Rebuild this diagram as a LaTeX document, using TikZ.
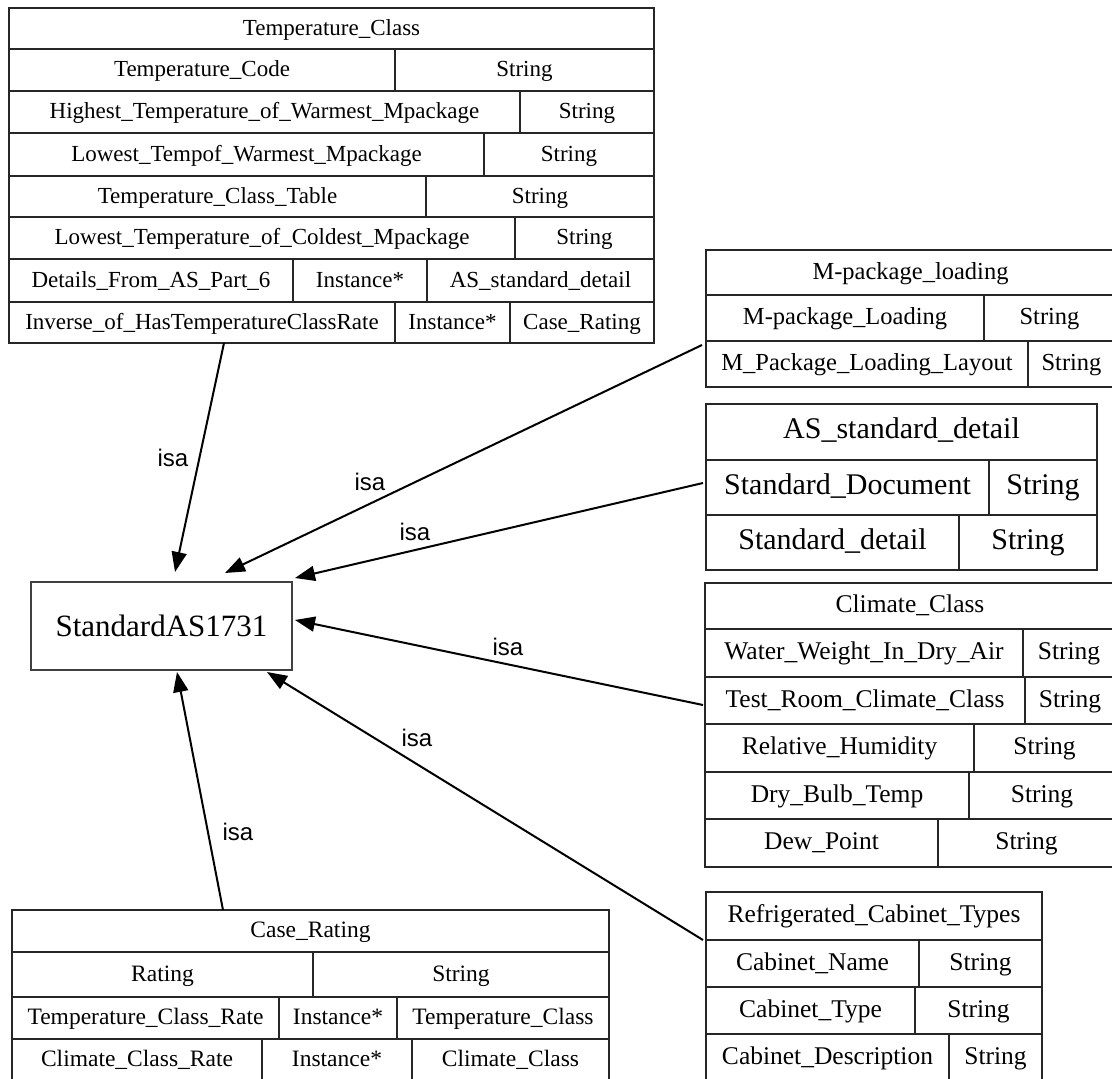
\documentclass[tikz,border=0pt]{standalone}
\usepackage{fontspec}
\setmainfont{Liberation Serif}
\newfontfamily\isafont{Liberation Sans}
\usetikzlibrary{arrows.meta}

% one table cell: name, x1, y1, x2, y2, text
\newcommand\tabcell[6]{%
  \draw[cellline] (#2,#3) rectangle (#4,#5);
  \node[celltxt] (#1) at ({(#2+#4)/2},{(#3+#5)/2}) {#6};}

\tikzset{
  cellline/.style={line width=1pt, draw=black!85},
  celltxt/.style={inner sep=0pt, text height=0.66em, text depth=0pt},
  isa/.style={-{Triangle[length=10pt,width=7.5pt]}, line width=1pt, black},
  isalbl/.style={font=\isafont\fontsize{12}{14}\selectfont, inner sep=0pt},
}

\begin{document}
\begin{tikzpicture}[x=0.5pt,y=-0.5pt]
\useasboundingbox (0,0) rectangle (1112,1079);
\clip (0,0) rectangle (1112,1079);
\fill[white] (0,0) rectangle (1112,1079);

% Temperature_Class
\begin{scope}[celltxt/.append style={font=\fontsize{11.5}{13}\selectfont}]
\tabcell{tc}{9}{8}{654}{49}{Temperature\_Class}
\tabcell{tc1a}{9}{49}{395}{91}{Temperature\_Code}
\tabcell{tc1b}{395}{49}{654}{91}{String}
\tabcell{tc2a}{9}{91}{520}{133}{Highest\_Temperature\_of\_Warmest\_Mpackage}
\tabcell{tc2b}{520}{91}{654}{133}{String}
\tabcell{tc3a}{9}{133}{484}{176}{Lowest\_Tempof\_Warmest\_Mpackage}
\tabcell{tc3b}{484}{133}{654}{176}{String}
\tabcell{tc4a}{9}{176}{426}{217}{Temperature\_Class\_Table}
\tabcell{tc4b}{426}{176}{654}{217}{String}
\tabcell{tc5a}{9}{217}{515}{259}{Lowest\_Temperature\_of\_Coldest\_Mpackage}
\tabcell{tc5b}{515}{217}{654}{259}{String}
\tabcell{tc6a}{9}{259}{293}{302}{Details\_From\_AS\_Part\_6}
\tabcell{tc6b}{293}{259}{427}{302}{Instance*}
\tabcell{tc6c}{427}{259}{654}{302}{AS\_standard\_detail}
\tabcell{tc7a}{9}{302}{395}{343}{Inverse\_of\_HasTemperatureClassRate}
\tabcell{tc7b}{395}{302}{510}{343}{Instance*}
\tabcell{tc7c}{510}{302}{654}{343}{Case\_Rating}
\end{scope}

% M-package_loading
\begin{scope}[celltxt/.append style={font=\fontsize{12.25}{14}\selectfont}]
\tabcell{mp}{706}{250}{1115}{295}{M-package\_loading}
\tabcell{mp1a}{706}{295}{984}{341}{M-package\_Loading}
\tabcell{mp1b}{984}{295}{1115}{341}{String}
\tabcell{mp2a}{706}{341}{1028}{387}{M\_Package\_Loading\_Layout}
\tabcell{mp2b}{1028}{341}{1115}{387}{String}
\end{scope}

% AS_standard_detail
\begin{scope}[celltxt/.append style={font=\fontsize{15}{17}\selectfont}]
\tabcell{asd}{706}{404}{1097}{460}{AS\_standard\_detail}
\tabcell{asd1a}{706}{460}{989}{515}{Standard\_Document}
\tabcell{asd1b}{989}{460}{1097}{515}{String}
\tabcell{asd2a}{706}{515}{959}{570}{Standard\_detail}
\tabcell{asd2b}{959}{515}{1097}{570}{String}
\end{scope}

% Climate_Class
\begin{scope}[celltxt/.append style={font=\fontsize{12.75}{15}\selectfont}]
\tabcell{cc}{705}{583}{1115}{629}{Climate\_Class}
\tabcell{cc1a}{705}{629}{1023}{677}{Water\_Weight\_In\_Dry\_Air}
\tabcell{cc1b}{1023}{629}{1115}{677}{String}
\tabcell{cc2a}{705}{677}{1025}{724}{Test\_Room\_Climate\_Class}
\tabcell{cc2b}{1025}{677}{1115}{724}{String}
\tabcell{cc3a}{705}{724}{974}{772}{Relative\_Humidity}
\tabcell{cc3b}{974}{724}{1115}{772}{String}
\tabcell{cc4a}{705}{772}{969}{819}{Dry\_Bulb\_Temp}
\tabcell{cc4b}{969}{772}{1115}{819}{String}
\tabcell{cc5a}{705}{819}{938}{867}{Dew\_Point}
\tabcell{cc5b}{938}{819}{1115}{867}{String}
\end{scope}

% Refrigerated_Cabinet_Types
\begin{scope}[celltxt/.append style={font=\fontsize{12.75}{15}\selectfont}]
\tabcell{rc}{706}{892}{1042}{940}{Refrigerated\_Cabinet\_Types}
\tabcell{rc1a}{706}{940}{919}{987}{Cabinet\_Name}
\tabcell{rc1b}{919}{940}{1042}{987}{String}
\tabcell{rc2a}{706}{987}{915}{1034}{Cabinet\_Type}
\tabcell{rc2b}{915}{987}{1042}{1034}{String}
\tabcell{rc3a}{706}{1034}{949}{1081}{Cabinet\_Description}
\tabcell{rc3b}{949}{1034}{1042}{1081}{String}
\end{scope}

% Case_Rating
\begin{scope}[celltxt/.append style={font=\fontsize{11.75}{14}\selectfont}]
\tabcell{cr}{12}{910}{609}{952}{Case\_Rating}
\tabcell{cr1a}{12}{952}{313}{997}{Rating}
\tabcell{cr1b}{313}{952}{609}{997}{String}
\tabcell{cr2a}{12}{997}{279}{1039}{Temperature\_Class\_Rate}
\tabcell{cr2b}{279}{997}{397}{1039}{Instance*}
\tabcell{cr2c}{397}{997}{609}{1039}{Temperature\_Class}
\tabcell{cr3a}{12}{1039}{262}{1081}{Climate\_Class\_Rate}
\tabcell{cr3b}{262}{1039}{412}{1081}{Instance*}
\tabcell{cr3c}{412}{1039}{609}{1081}{Climate\_Class}
\end{scope}

% central class
\node[draw=black!75, line width=1pt, minimum width=130.5pt, minimum height=44pt,
      inner sep=0pt, font=\fontsize{15.5}{18}\selectfont] (std) at (161.5,626) {StandardAS1731};

% connector ends
\coordinate (tcfoot) at (224,343);
\coordinate (mpfoot) at (702,345);
\coordinate (asdfoot) at (703,483);
\coordinate (ccfoot) at (703,705);
\coordinate (rcfoot) at (703,940);
\coordinate (crfoot) at (223,910);
\coordinate (stdA) at (175,572);
\coordinate (stdB) at (225,573);
\coordinate (stdC) at (295,578);
\coordinate (stdD) at (295,620);
\coordinate (stdE) at (267,672);
\coordinate (stdF) at (177,672);

\draw[isa] (tcfoot) -- (stdA);
\draw[isa] (mpfoot) -- (stdB);
\draw[isa] (asdfoot) -- (stdC);
\draw[isa] (ccfoot) -- (stdD);
\draw[isa] (rcfoot) -- (stdE);
\draw[isa] (crfoot) -- (stdF);

\node[isalbl] (l1) at (173,458) {isa};
\node[isalbl] (l2) at (370,482) {isa};
\node[isalbl] (l3) at (415,532) {isa};
\node[isalbl] (l4) at (508,647) {isa};
\node[isalbl] (l5) at (417,738) {isa};
\node[isalbl] (l6) at (238,832) {isa};
\end{tikzpicture}
\end{document}
